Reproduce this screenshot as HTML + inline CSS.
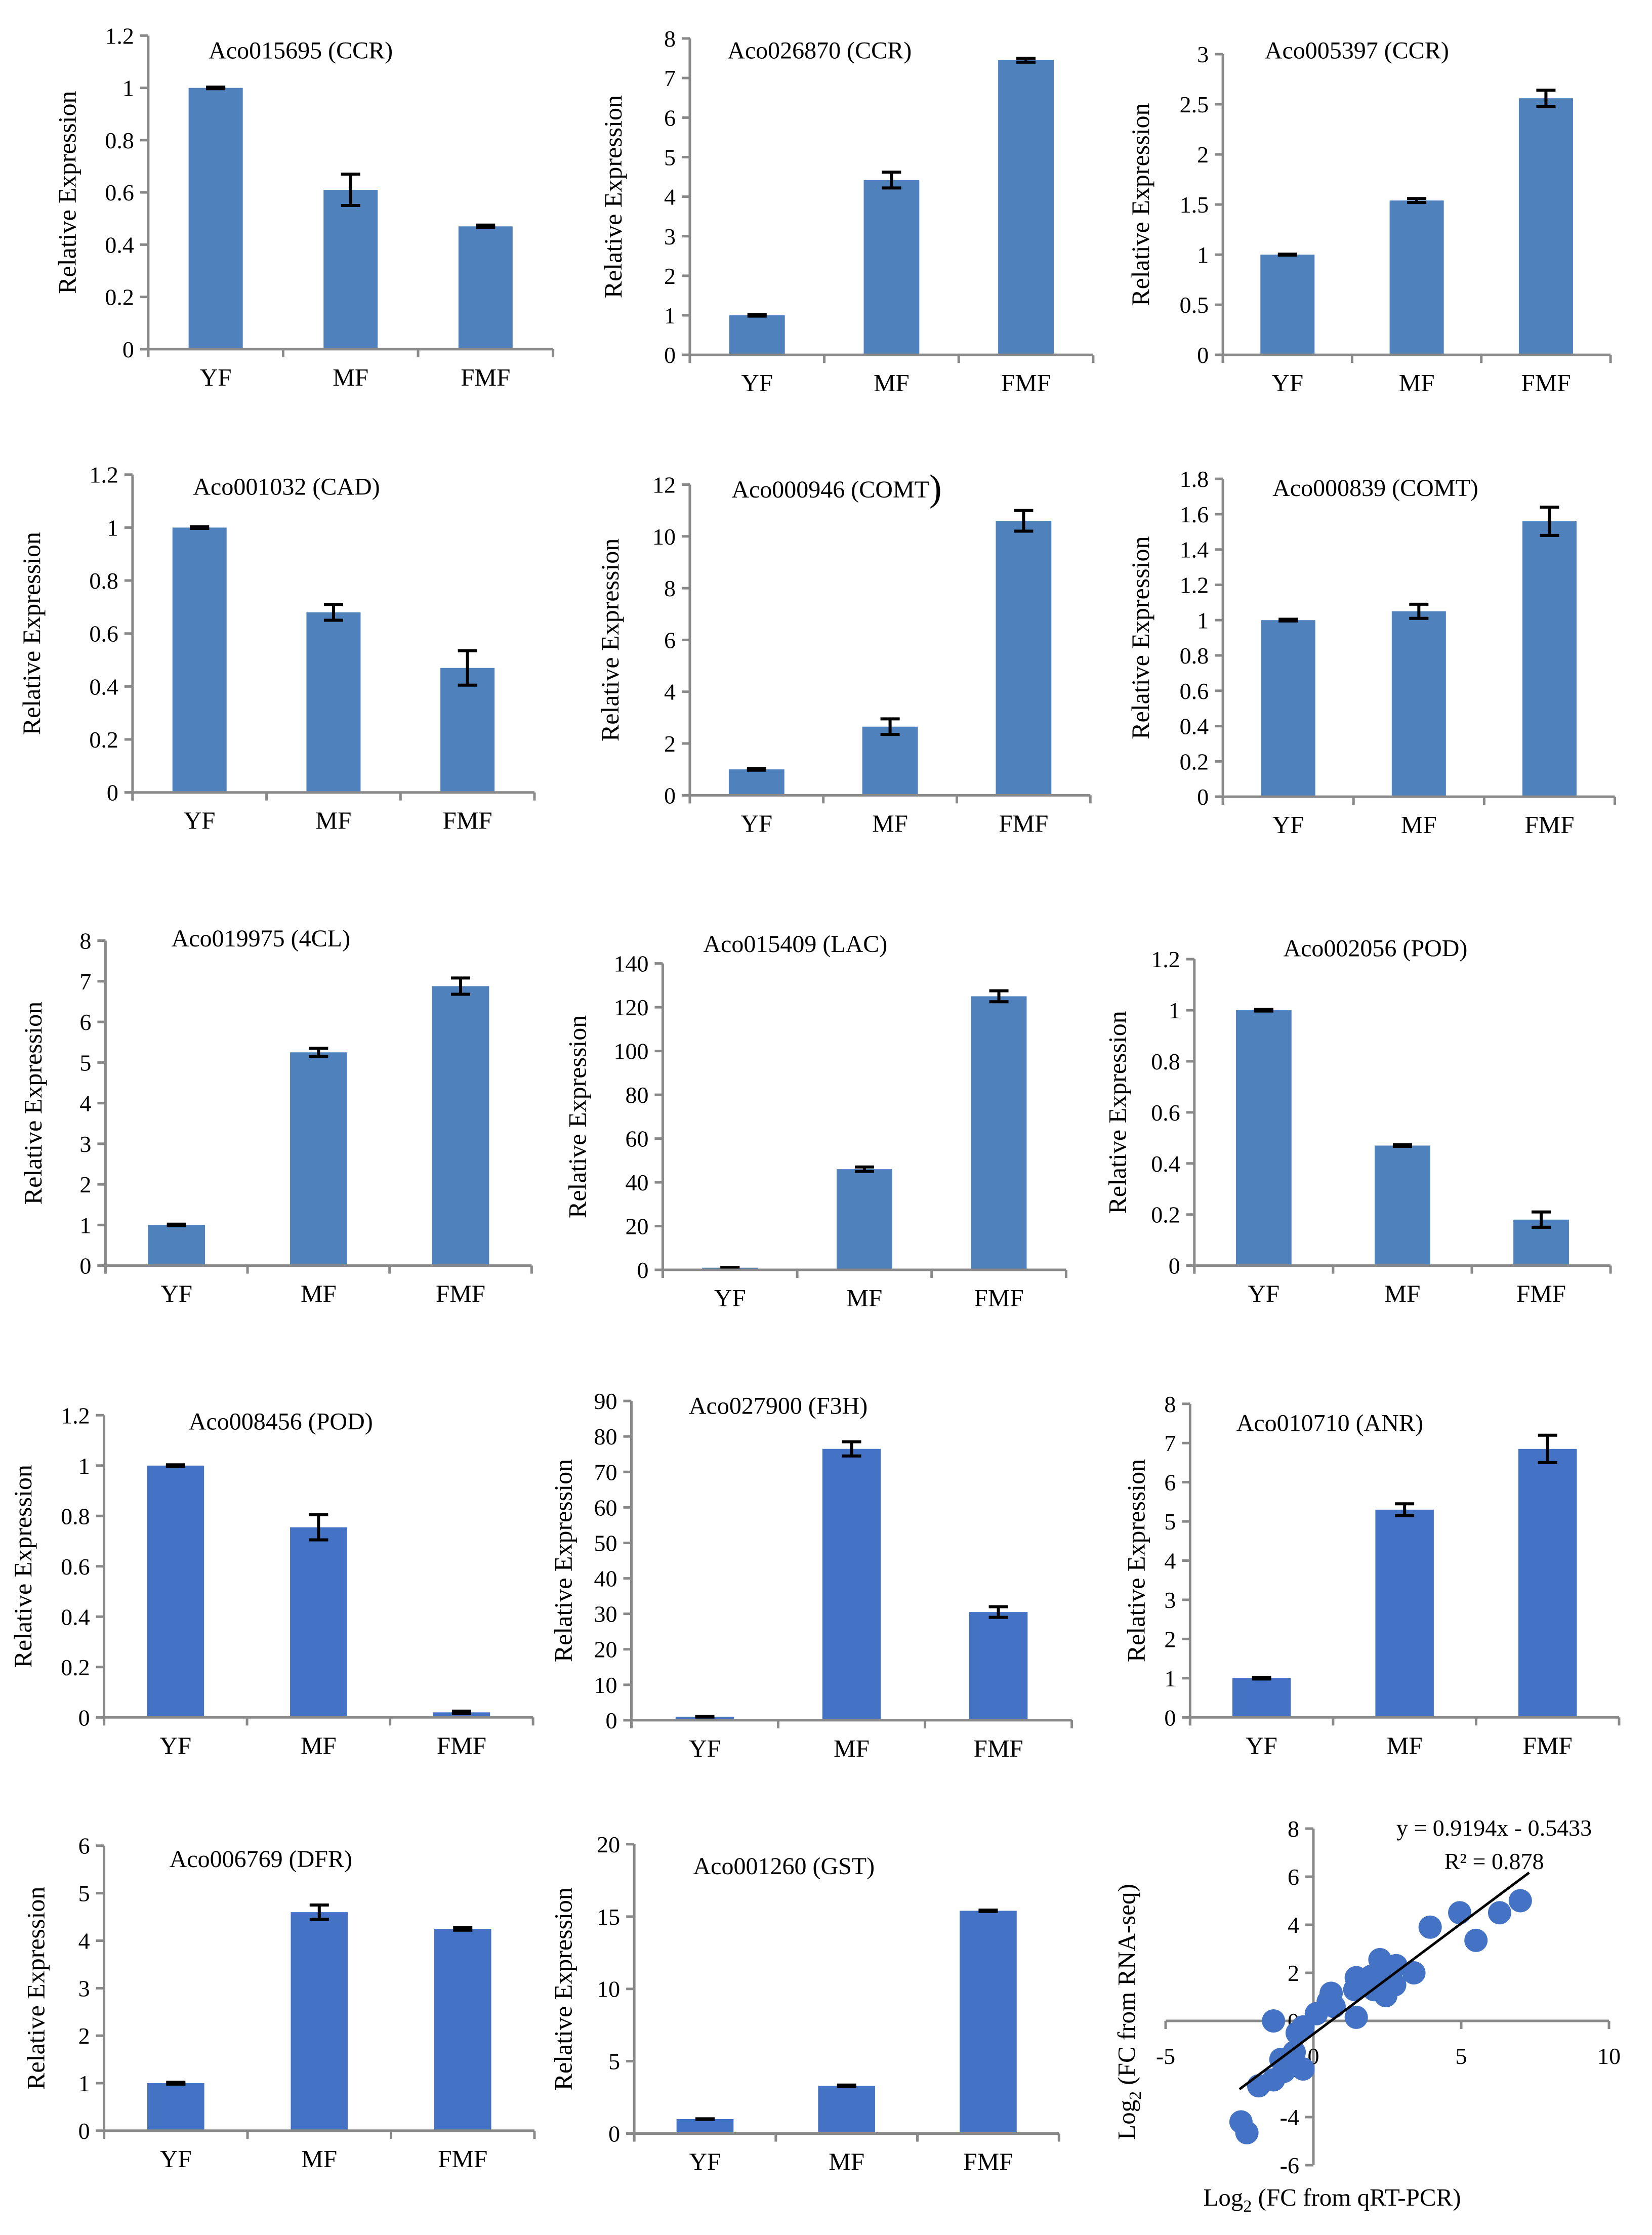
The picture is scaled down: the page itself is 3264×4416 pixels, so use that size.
<!DOCTYPE html>
<html><head><meta charset="utf-8">
<style>
html,body{margin:0;padding:0;background:#fff;}
svg{display:block;}
text{font-family:"Liberation Serif",serif;fill:#000;}
</style></head>
<body>
<svg id="fig" width="3264" height="4416" viewBox="0 0 3264 4416" xmlns="http://www.w3.org/2000/svg"></svg>
<script>
// ---- data ----
const categories = ["YF","MF","FMF"];
const titles = ["Aco015695 (CCR)","Aco026870 (CCR)","Aco005397 (CCR)","Aco001032 (CAD)","Aco000946 (COMT","Aco000839 (COMT)","Aco019975 (4CL)","Aco015409 (LAC)","Aco002056 (POD)","Aco008456 (POD)","Aco027900 (F3H)","Aco010710 (ANR)","Aco006769 (DFR)","Aco001260 (GST)"];
const vals1=[1,0.61,0.47], errs1=[0.003,0.06,0.005];
const vals2=[1,4.42,7.45], errs2=[0.02,0.2,0.05];
const vals3=[1,1.54,2.56], errs3=[0.005,0.02,0.08];
const vals4=[1,0.68,0.47], errs4=[0.003,0.03,0.065];
const vals5=[1,2.65,10.6], errs5=[0.03,0.3,0.4];
const vals6=[1,1.05,1.56], errs6=[0.005,0.04,0.08];
const vals7=[1,5.25,6.88], errs7=[0.02,0.1,0.2];
const vals8=[1,46,125], errs8=[0.1,1,2.5];
const vals9=[1,0.47,0.18], errs9=[0.003,0.003,0.03];
const vals10=[1,0.755,0.02], errs10=[0.003,0.05,0.005];
const vals11=[1,76.5,30.5], errs11=[0.1,2,1.5];
const vals12=[1,5.3,6.85], errs12=[0.02,0.15,0.35];
const vals13=[1,4.6,4.25], errs13=[0.02,0.15,0.03];
const vals14=[1,3.3,15.4], errs14=[0.02,0.05,0.05];
const yMax=[1.2,8,3,1.2,12,1.8,8,140,1.2,1.2,90,8,6,20];
const yStep=[0.2,1,0.5,0.2,2,0.2,1,20,0.2,0.2,10,1,1,5];
const scatterX=[7.0,6.3,4.95,5.5,3.95,3.4,2.25,2.8,2.75,2.45,1.95,1.45,1.4,1.45,2.05,0.6,0.5,0.7,0.1,-0.35,-0.55,-1.35,-0.65,-1.1,-0.35,-1.0,-1.35,-1.85,-2.45,-2.25,2.45,1.8];
const scatterY=[5.0,4.5,4.5,3.35,3.9,2.0,2.55,2.3,1.5,1.05,1.85,1.8,1.3,0.15,1.3,1.15,0.8,0.6,0.3,-0.25,-0.5,0,-1.3,-1.6,-2.0,-2.1,-2.45,-2.7,-4.2,-4.65,1.85,1.5];
const xTicksS=[-5,0,5,10];
const yTicksS=[-6,-4,-2,0,2,4,6,8];
const fitSlope=0.9194, fitIntercept=-0.5433;

const allVals=[vals1,vals2,vals3,vals4,vals5,vals6,vals7,vals8,vals9,vals10,vals11,vals12,vals13,vals14];
const allErrs=[errs1,errs2,errs3,errs4,errs5,errs6,errs7,errs8,errs9,errs10,errs11,errs12,errs13,errs14];

// ---- layout (display units, scaled by S) ----
const S=2.816;
const L=[
[104,245,25,388,211,35,47,38,"#4f81bd"],
[484,249,27,767,575,35,430,39,"#4f81bd"],
[858,249,38,1130,952,35,800,38,"#4f81bd"],
[93,556,333,375,201,341,22,38,"#4f81bd"],
[484,558,340,765,587,343,428,39,"#4f81bd"],
[858,559,336,1133,965,342,800,38,"#4f81bd"],
[74,888,660,373,183,658,23,40,"#4f81bd"],
[465,891,676,748,558,662,405,39,"#4f81bd"],
[838,888,673,1130,965,665,784,39,"#4f81bd"],
[73,1205,993,374,197,997,16,40,"#4472c4"],
[443,1207,983,752,546,986,395,41,"#4472c4"],
[835,1205,985,1136,933,998,797,41,"#4472c4"],
[73,1495,1295,375,183,1304,25,40,"#4472c4"],
[445,1497,1294,743,550,1309,395,40,"#4472c4"]
];
const NS="http://www.w3.org/2000/svg";
const svg=document.getElementById('fig');
function mk(tag,attrs,parent){const e=document.createElementNS(NS,tag);for(const k in attrs)e.setAttribute(k,attrs[k]);(parent||svg).appendChild(e);return e;}
const AX="#898989";

L.forEach((c,i)=>{
  const g=mk('g',{});
  
  
  const ax=c[0]*S, y0=c[1]*S, yt=c[2]*S, xe=c[3]*S, bw=c[7]*S;
  const yS=v=>y0-(v/yMax[i])*(y0-yt);
  const cw=(xe-ax)/3;
  const xC=k=>ax+cw*(k+0.5);
  allVals[i].forEach((v,k)=>{
    const r=mk('rect',{x:xC(k)-bw/2,y:yS(v),width:bw,height:y0-yS(v),fill:c[8]},g);
    
    
    const e=allErrs[i][k];
    const eg=mk('g',{stroke:"#000","stroke-width":6},g);
    
    
    mk('line',{x1:xC(k),x2:xC(k),y1:yS(v+e),y2:yS(v-e)},eg);
    mk('line',{x1:xC(k)-19,x2:xC(k)+19,y1:yS(v+e),y2:yS(v+e)},eg);
    mk('line',{x1:xC(k)-19,x2:xC(k)+19,y1:yS(v-e),y2:yS(v-e)},eg);
  });
  const ya=mk('line',{x1:ax,x2:ax,y1:yt,y2:y0+16,stroke:AX,"stroke-width":5},g);
  
  const xa=mk('line',{x1:ax-16,x2:xe,y1:y0,y2:y0,stroke:AX,"stroke-width":5},g);
  
  const n=Math.round(yMax[i]/yStep[i]);
  for(let t=0;t<=n;t++){
    const v=t*yStep[i], y=yS(v);
    mk('line',{x1:ax-16,x2:ax,y1:y,y2:y,stroke:AX,"stroke-width":5},g);
    const lbl=mk('text',{x:ax-28,y:y+16,"font-size":46,"text-anchor":"end"},g);
    
    lbl.textContent=String(parseFloat(v.toFixed(2)));
  }
  for(let k=0;k<=3;k++){mk('line',{x1:ax+cw*k,x2:ax+cw*k,y1:y0,y2:y0+16,stroke:AX,"stroke-width":5},g);}
  categories.forEach((cat,k)=>{
    const t=mk('text',{x:xC(k),y:y0+72,"font-size":49,"text-anchor":"middle"},g);
    
    t.textContent=cat;
  });
  const tt=mk('text',{x:c[4]*S,y:c[5]*S+17,"font-size":48,"text-anchor":"middle"},g);
  
  tt.textContent=titles[i];
  if(i===4){const p=mk('tspan',{"font-size":74,dy:6},tt);p.textContent=")";}
  const ym=(y0+yt)/2;
  const yl=mk('text',{x:c[6]*S,y:ym,"font-size":50,"text-anchor":"middle",transform:`rotate(-90 ${c[6]*S} ${ym})`,dy:17},g);
  
  yl.textContent="Relative Expression";
});

// ---- scatter ----
(function(){
  const g=mk('g',{});
  
  
  const x0=2303,x1=3179, yA=3993, yU=47.5;
  const xS=v=>x0+(v+5)/15*(x1-x0);
  const yS=v=>yA-v*yU;
  const xa=mk('line',{x1:xS(-5),x2:xS(10),y1:yA,y2:yA,stroke:AX,"stroke-width":5},g);
  
  const ya=mk('line',{x1:xS(0),x2:xS(0),y1:yS(8),y2:yS(-6),stroke:AX,"stroke-width":5},g);
  
  xTicksS.forEach(v=>{
    mk('line',{x1:xS(v),x2:xS(v),y1:yA,y2:yA+16,stroke:AX,"stroke-width":5},g);
    const t=mk('text',{x:xS(v),y:yA+85,"font-size":46,"text-anchor":"middle"},g);
    
    t.textContent=String(v);
  });
  yTicksS.forEach(v=>{
    mk('line',{x1:xS(0)-16,x2:xS(0),y1:yS(v),y2:yS(v),stroke:AX,"stroke-width":5},g);
    const t=mk('text',{x:xS(0)-28,y:yS(v)+16,"font-size":46,"text-anchor":"end"},g);
    
    t.textContent=String(v);
  });
  scatterX.forEach((v,k)=>{
    const p=mk('circle',{cx:xS(v),cy:yS(scatterY[k]),r:23,fill:"#4472c4"},g);
    
    
  });
  const fa=-2.5, fb=7.3;
  const fl=mk('line',{x1:xS(fa),y1:yS(fitSlope*fa+fitIntercept),x2:xS(fb),y2:yS(fitSlope*fb+fitIntercept),stroke:"#000","stroke-width":5},g);
  
  const eq=mk('text',{x:2952,y:3627,"font-size":46,"text-anchor":"middle"},g);
  
  eq.textContent="y = 0.9194x - 0.5433";
  const r2=mk('text',{x:2952,y:3693,"font-size":46,"text-anchor":"middle"},g);
  
  r2.textContent="R² = 0.878";
  const xt=mk('text',{x:2632,y:4358,"font-size":49,"text-anchor":"middle"},g);
  
  xt.innerHTML='Log<tspan font-size="34" dy="12">2</tspan><tspan dy="-12"> (FC from qRT-PCR)</tspan>';
  const yx=2225, yy=3975;
  const yt=mk('text',{x:yx,y:yy,"font-size":49,"text-anchor":"middle",transform:`rotate(-90 ${yx} ${yy})`,dy:17},g);
  
  yt.innerHTML='Log<tspan font-size="34" dy="12">2</tspan><tspan dy="-12"> (FC from RNA-seq)</tspan>';
})();
</script>
</body></html>
